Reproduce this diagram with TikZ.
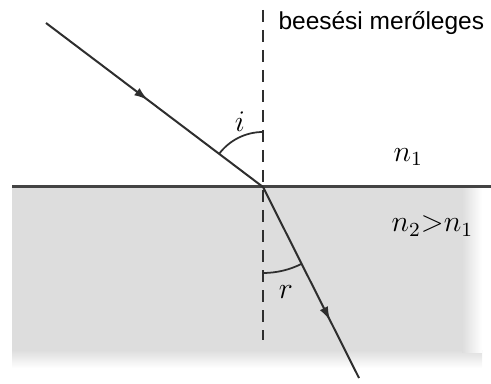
\documentclass[tikz,border=0pt]{standalone}
\usepackage{fontspec}
\setmainfont{Liberation Sans}
\usetikzlibrary{arrows.meta,decorations.markings}
\definecolor{raygray}{HTML}{2E2E2E}
\definecolor{mediumgray}{HTML}{DDDDDD}
\tikzset{
    every node/.style={font=\fontsize{9.8}{11}\selectfont,inner sep=0pt},
    ray/.style={draw=raygray,line width=0.8pt},
    normalline/.style={draw=raygray,line width=0.7pt,dash pattern=on 4.8pt off 3.2pt},
    surface/.style={draw=raygray!90,line width=1.2pt},
    anglearc/.style={draw=raygray,line width=0.7pt},
    mathlbl/.style={font=\large},
    midarrow/.style={postaction={decorate},decoration={markings,
        mark=at position #1 with {\arrow{Latex[length=5.5pt,width=3.6pt]}}}}
}

\begin{document}
\begin{tikzpicture}[x=0.4pt,y=-0.4pt]
    \useasboundingbox (0,0) rectangle (491,384);
    \fill[mediumgray] (12,188) rectangle (462,350);
    \shade[top color=mediumgray,bottom color=white] (12,350) rectangle (482,368);
    \shade[left color=mediumgray,right color=white] (462,188) rectangle (482,352);
    \coordinate (O) at (263,187);
    \coordinate (A) at (46,23);
    \coordinate (B) at (359,378);
    \coordinate (top) at (263,10);
    \coordinate (bot) at (263,340);
    \coordinate (L) at (12,187);
    \coordinate (R) at (491,187);
    \draw[normalline] (top) -- (bot);
    \draw[surface] (L) -- (R);
    \draw[ray,midarrow=0.47] (A) -- (O);
    \draw[ray,midarrow=0.70] (O) -- (B);
    \draw[anglearc] (O) ++(217:55) arc[start angle=217,end angle=270,radius=55];
    \draw[anglearc] (O) ++(63:86) arc[start angle=63,end angle=90,radius=86];
    \node[mathlbl] (i) at (240,122) {$i$};
    \node[mathlbl] (r) at (286,292) {$r$};
    \node[mathlbl,anchor=west] (n1) at (393,157) {$n_1$};
    \node[mathlbl,anchor=west] (n2) at (391,226) {$n_2{>}n_1$};
    \node[anchor=base west] (perp) at (278,30) {beesési merőleges};
\end{tikzpicture}
\end{document}
